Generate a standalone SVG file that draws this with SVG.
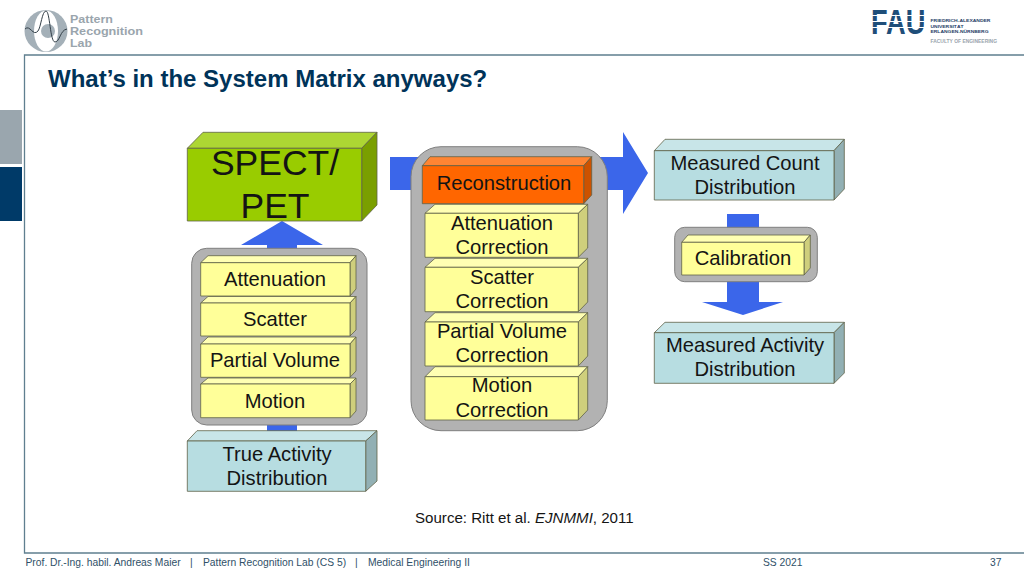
<svg xmlns="http://www.w3.org/2000/svg" width="1024" height="576" viewBox="0 0 1024 576">
<style>
text{font-family:"Liberation Sans",Arial,sans-serif;fill:#141414}
.l{font-size:20.200px;text-anchor:middle}
.e{stroke:#5f6248;stroke-width:.8;stroke-linejoin:round}
.yf{fill:#ffff99}.yt{fill:#ffffb3}.ys{fill:#cfcf7c}
.tf{fill:#b7dde1}.tt{fill:#c8e5e8}.ts{fill:#92b0b4}
.gf{fill:#99cc00}.gt{fill:#add633}.gs{fill:#7a9f00}
.of{fill:#ff6600}.ot{fill:#ff8533}.os{fill:#cc5200}
.panel{fill:#b2b2b2;stroke:#7f7f7f;stroke-width:1}
.arrow{fill:#3b66ea}
.frame{fill:none;stroke:#5f7f8f;stroke-width:1.3}
.foot{font-size:10.300px;fill:#2f5068}
.prl{font-size:10.300px;font-weight:700;fill:#9aa5ad}
.fau{font-size:4.300px;font-weight:700;fill:#1f4168}
</style>
<g id="chrome">
<rect x="0" y="110" width="22" height="54" fill="#9aa6ae"/>
<rect x="0" y="167" width="22" height="54" fill="#003a68"/>
<path class="frame" d="M1024 55H24.5V553H1024"/>
<text x="48" y="87" font-size="24" font-weight="700" style="fill:#003359">What’s in the System Matrix anyways?</text>
<text x="415" y="523" font-size="15.100">Source: Ritt et al. <tspan font-style="italic">EJNMMI</tspan>, 2011</text>
<text class="foot" x="25.5" y="566">Prof. Dr.-Ing. habil. Andreas Maier</text>
<text class="foot" x="190" y="566">|</text>
<text class="foot" x="203" y="566">Pattern Recognition Lab (CS 5)</text>
<text class="foot" x="355" y="566">|</text>
<text class="foot" x="368" y="566">Medical Engineering II</text>
<text class="foot" x="763" y="566">SS 2021</text>
<text class="foot" x="990" y="566">37</text>
</g>
<g id="logo-prl">
<ellipse cx="46" cy="31" rx="21.5" ry="21" fill="#a4b0b8"/>
<ellipse cx="46" cy="31" rx="12" ry="20.5" fill="#fff"/>
<circle cx="48" cy="31" r="7" fill="#a4b0b8"/>
<path d="M25 29C30 24 33 37 38 31C41 27 42 11 46 11C50 11 50 42 55 42C60 42 60 30 67 29" fill="none" stroke="#333f48" stroke-width="1"/>
<text class="prl" x="70" y="23" textLength="43" lengthAdjust="spacingAndGlyphs">Pattern</text>
<text class="prl" x="70" y="35.200" textLength="73" lengthAdjust="spacingAndGlyphs">Recognition</text>
<text class="prl" x="70" y="47.400" textLength="22" lengthAdjust="spacingAndGlyphs">Lab</text>
</g>
<g id="logo-fau">
<text transform="translate(871 34) scale(1 1.27)" font-size="27.200" font-weight="700" style="fill:#1f4e79">FAU</text>
<path d="M868 15.500H929M868 21.500H929M868 27.500H929" stroke="#fff" stroke-width="1.2"/>
<text class="fau" x="930.500" y="22.200" textLength="60" lengthAdjust="spacingAndGlyphs">FRIEDRICH-ALEXANDER</text>
<text class="fau" x="930.500" y="27.700" textLength="33" lengthAdjust="spacingAndGlyphs">UNIVERSITÄT</text>
<text class="fau" x="930.500" y="33.200" textLength="58" lengthAdjust="spacingAndGlyphs">ERLANGEN-NÜRNBERG</text>
<text x="930.500" y="42.500" font-size="4.950" font-weight="700" style="fill:#9aa5ad">FACULTY OF ENGINEERING</text>
</g>
<g id="connectors">
<path class="arrow" d="M282 221L323 245H297V431H267V245H241Z"/>
<path class="arrow" d="M390 157H623V132L648 173L623 214V190H390Z"/>
<path class="arrow" d="M727 214H759V302H783L743 315L702 302H727Z"/>
</g>
<g id="spect-pet">
<path class="e gt" d="M187.300 148.300L203 132.300H377L361.700 148.300Z"/>
<path class="e gs" d="M361.700 148.300L377 132.300V205L361.700 221Z"/>
<rect class="e gf" x="187.300" y="148.300" width="174.400" height="72.700"/>
<text x="275" y="175" font-size="35.500" text-anchor="middle">SPECT/</text>
<text x="275" y="218" font-size="35.500" text-anchor="middle">PET</text>
</g>
<g id="forward-model">
<rect class="panel" x="191.700" y="248.300" width="175.300" height="176.700" rx="15"/>
<g id="attenuation">
<path class="e yt" d="M200.700 262.700L208 255.700H356L350 262.700Z"/><path class="e ys" d="M350 262.700L356 255.700V289L350 296Z"/><rect class="e yf" x="200.700" y="262.700" width="149.300" height="33.300"/>
<text class="l" x="275" y="286">Attenuation</text></g>
<g id="scatter">
<path class="e yt" d="M200.700 303L208 296.500H356L350 303Z"/><path class="e ys" d="M350 303L356 296.500V330L350 336Z"/><rect class="e yf" x="200.700" y="303" width="149.300" height="33"/>
<text class="l" x="275" y="326">Scatter</text></g>
<g id="partial-volume">
<path class="e yt" d="M200.700 344L208 337H356L350 344Z"/><path class="e ys" d="M350 344L356 337V371L350 377.300Z"/><rect class="e yf" x="200.700" y="344" width="149.300" height="33.300"/>
<text class="l" x="275" y="367">Partial Volume</text></g>
<g id="motion">
<path class="e yt" d="M200.700 384L208 378H356L350 384Z"/><path class="e ys" d="M350 384L356 378V411L350 417.700Z"/><rect class="e yf" x="200.700" y="384" width="149.300" height="33.700"/>
<text class="l" x="275" y="408">Motion</text></g>
</g>
<g id="true-activity">
<path class="e tt" d="M187.300 441L197 430.700H377L365.700 441Z"/><path class="e ts" d="M365.700 441L377 430.700V481L365.700 491.300Z"/><rect class="e tf" x="187.300" y="441" width="178.400" height="50.300"/>
<text class="l" x="277" y="461">True Activity</text><text class="l" x="277" y="485">Distribution</text>
</g>
<g id="reconstruction-stack">
<rect class="panel" x="411" y="146.700" width="196.300" height="284" rx="30"/>
<g id="reconstruction">
<path class="e ot" d="M422.300 165.700L430 156.700H591.700L583.700 165.700Z"/><path class="e os" d="M583.700 165.700L591.700 156.700V195L583.700 203.700Z"/><rect class="e of" x="422.300" y="165.700" width="161.400" height="38"/>
<text class="l" x="504" y="190">Reconstruction</text></g>
<g id="attenuation-correction">
<path class="e yt" d="M425 213.300L435 204.300H587.700L578.300 213.300Z"/><path class="e ys" d="M578.300 213.300L587.700 204.300V248L578.300 257.300Z"/><rect class="e yf" x="425" y="213.300" width="153.300" height="44"/>
<text class="l" x="502" y="230">Attenuation</text><text class="l" x="502" y="254">Correction</text></g>
<g id="scatter-correction">
<path class="e yt" d="M425 267.300L435 258.300H587.700L578.300 267.300Z"/><path class="e ys" d="M578.300 267.300L587.700 258.300V302L578.300 311.700Z"/><rect class="e yf" x="425" y="267.300" width="153.300" height="44.400"/>
<text class="l" x="502" y="284">Scatter</text><text class="l" x="502" y="308">Correction</text></g>
<g id="partial-volume-correction">
<path class="e yt" d="M425 322L435 312.700H587.700L578.300 322Z"/><path class="e ys" d="M578.300 322L587.700 312.700V356L578.300 366Z"/><rect class="e yf" x="425" y="322" width="153.300" height="44"/>
<text class="l" x="502" y="338">Partial Volume</text><text class="l" x="502" y="362">Correction</text></g>
<g id="motion-correction">
<path class="e yt" d="M425 376.700L435 366.700H587.700L578.300 376.700Z"/><path class="e ys" d="M578.300 376.700L587.700 366.700V410L578.300 420Z"/><rect class="e yf" x="425" y="376.700" width="153.300" height="43.300"/>
<text class="l" x="502" y="392">Motion</text><text class="l" x="502" y="417">Correction</text></g>
</g>
<g id="measured-count">
<path class="e tt" d="M654.300 150.700L665 139.300H844.300L834 150.700Z"/><path class="e ts" d="M834 150.700L844.300 139.300V189L834 200Z"/><rect class="e tf" x="654.300" y="150.700" width="179.700" height="49.300"/>
<text class="l" x="745" y="170">Measured Count</text><text class="l" x="745" y="194">Distribution</text>
</g>
<g id="calibration-stack">
<rect class="panel" x="674.700" y="227.300" width="142.600" height="54.400" rx="10"/>
<path class="e yt" d="M681.700 242.300L688 235H810.300L804 242.300Z"/><path class="e ys" d="M804 242.300L810.300 235V268L804 275Z"/><rect class="e yf" x="681.700" y="242.300" width="122.300" height="32.700"/>
<text class="l" x="743" y="265">Calibration</text>
</g>
<g id="measured-activity">
<path class="e tt" d="M654.300 332.700L665 322.300H844.300L834 332.700Z"/><path class="e ts" d="M834 332.700L844.300 322.300V373L834 383.300Z"/><rect class="e tf" x="654.300" y="332.700" width="179.700" height="50.600"/>
<text class="l" x="745" y="352">Measured Activity</text><text class="l" x="745" y="376">Distribution</text>
</g>
</svg>
